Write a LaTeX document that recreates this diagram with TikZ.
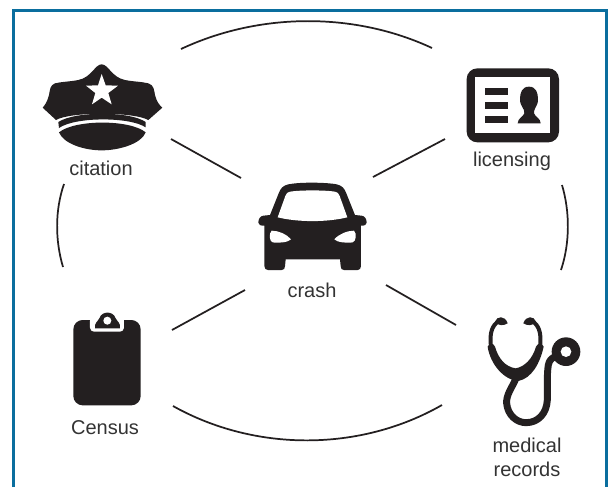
\documentclass[tikz,border=0pt]{standalone}
\usepackage{fontspec}
\setmainfont{Liberation Sans}
\definecolor{frame}{HTML}{0A6E9E}
\definecolor{ink}{HTML}{231F20}
\definecolor{txt}{HTML}{333333}
\tikzset{
  lab/.style={text=txt,font=\fontsize{15}{18}\selectfont,align=center,inner sep=0pt},
  link/.style={draw=ink,line width=1.3pt},
  icon/.style={fill=ink,draw=none},
  hole/.style={fill=white,draw=none},
  tube/.style={draw=ink,line cap=round,line join=round}
}
\begin{document}
\begin{tikzpicture}[x=0.75pt,y=-0.75pt]
\useasboundingbox (0,0) rectangle (608,487);
\fill[white] (0,0) rectangle (608,487);
\draw[frame,line width=2.2pt] (13.5,487) -- (13.5,10.5) -- (606.5,10.5) -- (606.5,487);

% connector end points
\coordinate (c1a) at (171,139); \coordinate (c1b) at (241,178);
\coordinate (c2a) at (445,139); \coordinate (c2b) at (373,177);
\coordinate (c3a) at (172,330); \coordinate (c3b) at (245,290);
\coordinate (c4a) at (456,325); \coordinate (c4b) at (386,285);
\coordinate (a1a) at (181,49);  \coordinate (a1b) at (432,48);
\coordinate (a2a) at (64,184);  \coordinate (a2b) at (63,267);
\coordinate (a3a) at (562,185); \coordinate (a3b) at (561,270);
\coordinate (a4a) at (173,406); \coordinate (a4b) at (442,405);
\draw[link] (c1a) -- (c1b);
\draw[link] (c2a) -- (c2b);
\draw[link] (c3a) -- (c3b);
\draw[link] (c4a) -- (c4b);
\draw[link] (a1a) .. controls (260,12) and (355,12) .. (a1b);
\draw[link] (a2a) .. controls (55,210) and (55,240) .. (a2b);
\draw[link] (a3a) .. controls (570,212) and (570,243) .. (a3b);
\draw[link] (a4a) .. controls (255,452) and (360,452) .. (a4b);

% police cap
\begin{scope}[scale=1/3]
\fill[icon] (305,193) .. controls (285,193) and (275,232) .. (235,240)
  .. controls (210,245) and (185,245) .. (165,250)
  .. controls (150,255) and (150,270) .. (147,285)
  .. controls (142,305) and (135,315) .. (128,323)
  -- (168,360) .. controls (210,335) and (400,335) .. (445,360)
  -- (487,323) .. controls (478,315) and (470,305) .. (465,285)
  .. controls (462,270) and (462,255) .. (445,250)
  .. controls (425,245) and (400,245) .. (375,240)
  .. controls (335,232) and (325,193) .. (305,193) -- cycle;
\fill[icon] (175,366) .. controls (225,333) and (390,333) .. (437,366)
  -- (437,382) .. controls (390,350) and (225,350) .. (177,384) -- cycle;
\fill[icon] (177,397) .. controls (225,358) and (390,358) .. (437,397)
  .. controls (425,430) and (360,451) .. (305,451)
  .. controls (250,451) and (190,430) .. (177,397) -- cycle;
\fill[hole] (305,222) -- (317,256) -- (354,257) -- (325,279) -- (335,313) -- (305,293)
  -- (276,313) -- (286,279) -- (258,257) -- (294,256) -- cycle;
\end{scope}
\node[lab] (citation) at (101,168.5) {citation};

% licence card
\begin{scope}[shift={(440,50)},scale=1/3]
\fill[icon,rounded corners=8pt] (80,55) rectangle (357,277);
\fill[hole] (105,80) rectangle (330,250);
\fill[icon] (135,113) rectangle (205,135);
\fill[icon] (135,155) rectangle (205,178);
\fill[icon] (135,197) rectangle (205,220);
\fill[icon] (267,110) .. controls (245,110) and (240,130) .. (240,148)
  .. controls (240,170) and (255,175) .. (253,190)
  .. controls (250,200) and (233,205) .. (233,220)
  -- (302,220) .. controls (302,205) and (285,200) .. (282,190)
  .. controls (280,175) and (294,170) .. (294,148)
  .. controls (294,130) and (289,110) .. (267,110) -- cycle;
\end{scope}
\node[lab] (licensing) at (512,161) {licensing};

% car
\begin{scope}[shift={(230,160)},scale=1/3]
\fill[icon] (245,68) .. controls (215,68) and (190,70) .. (175,73)
  .. controls (158,77) and (152,85) .. (146,100)
  -- (120,165) -- (100,167) .. controls (90,168) and (85,178) .. (85,188)
  .. controls (85,195) and (92,197) .. (103,197)
  -- (103,318) .. controls (103,326) and (108,330) .. (114,330)
  -- (155,330) .. controls (162,330) and (165,326) .. (165,318)
  -- (167,298) -- (330,298) -- (332,318)
  .. controls (332,326) and (335,330) .. (342,330)
  -- (383,330) .. controls (389,330) and (393,326) .. (393,318)
  -- (393,197) .. controls (404,197) and (410,195) .. (410,188)
  .. controls (410,178) and (405,168) .. (395,167)
  -- (375,165) -- (349,100)
  .. controls (343,85) and (337,77) .. (320,73)
  .. controls (305,70) and (275,68) .. (245,68) -- cycle;
\fill[hole] (180,95) .. controls (210,90) and (285,90) .. (315,95)
  .. controls (322,96) and (326,100) .. (329,108)
  -- (352,172) .. controls (290,187) and (205,187) .. (143,172)
  -- (166,108) .. controls (169,100) and (173,96) .. (180,95) -- cycle;
\fill[hole] (125,212) .. controls (145,212) and (170,222) .. (183,238)
  .. controls (175,247) and (145,250) .. (128,247)
  .. controls (118,245) and (116,220) .. (125,212) -- cycle;
\fill[hole] (372,212) .. controls (352,212) and (327,222) .. (313,238)
  .. controls (321,247) and (351,250) .. (368,247)
  .. controls (378,245) and (381,220) .. (372,212) -- cycle;
\end{scope}
\node[lab] (crash) at (312,290) {crash};

% clipboard
\begin{scope}[shift={(50,300)},scale=1/3]
\fill[icon,rounded corners=7pt] (70,60) rectangle (272,316);
\fill[hole,rounded corners=3pt] (120,50) -- (120,95) -- (222,95) -- (222,50) -- cycle;
\fill[icon] (135,85) .. controls (132,70) and (145,62) .. (148,55)
  .. controls (155,32) and (190,32) .. (197,55)
  .. controls (200,62) and (213,70) .. (210,85) -- cycle;
\fill[hole] (172,62) circle[radius=12];
\end{scope}
\node[lab] (census) at (105,428) {Census};

% stethoscope
\begin{scope}[shift={(440,300)},scale=1/3]
\draw[tube,line width=3pt] (170,68) .. controls (150,85) and (150,115) .. (153,140);
\draw[tube,line width=3pt] (283,68) .. controls (303,85) and (303,115) .. (300,140);
\fill[icon] (165,65) .. controls (170,48) and (195,45) .. (203,70) .. controls (190,78) and (175,78) .. (165,65) -- cycle;
\fill[icon] (288,65) .. controls (283,48) and (258,45) .. (250,70) .. controls (263,78) and (278,78) .. (288,65) -- cycle;
\fill[icon] (143,140) .. controls (150,125) and (160,130) .. (165,140)
  .. controls (175,175) and (195,200) .. (227,205)
  .. controls (255,200) and (278,175) .. (288,140)
  .. controls (293,130) and (305,125) .. (311,140)
  .. controls (300,190) and (275,235) .. (235,243)
  .. controls (190,240) and (150,190) .. (143,140) -- cycle;
\draw[tube,line width=5.2pt] (228,235) .. controls (215,265) and (198,285) .. (200,310)
  .. controls (203,345) and (230,368) .. (258,368)
  .. controls (295,368) and (320,340) .. (322,300)
  .. controls (323,265) and (320,225) .. (325,195)
  .. controls (328,180) and (335,175) .. (345,170);
\fill[icon] (378,155) circle[radius=43];
\fill[hole] (378,155) circle[radius=16];
\end{scope}
\node[lab] (medical) at (527,457) {medical\\records};
\end{tikzpicture}
\end{document}
